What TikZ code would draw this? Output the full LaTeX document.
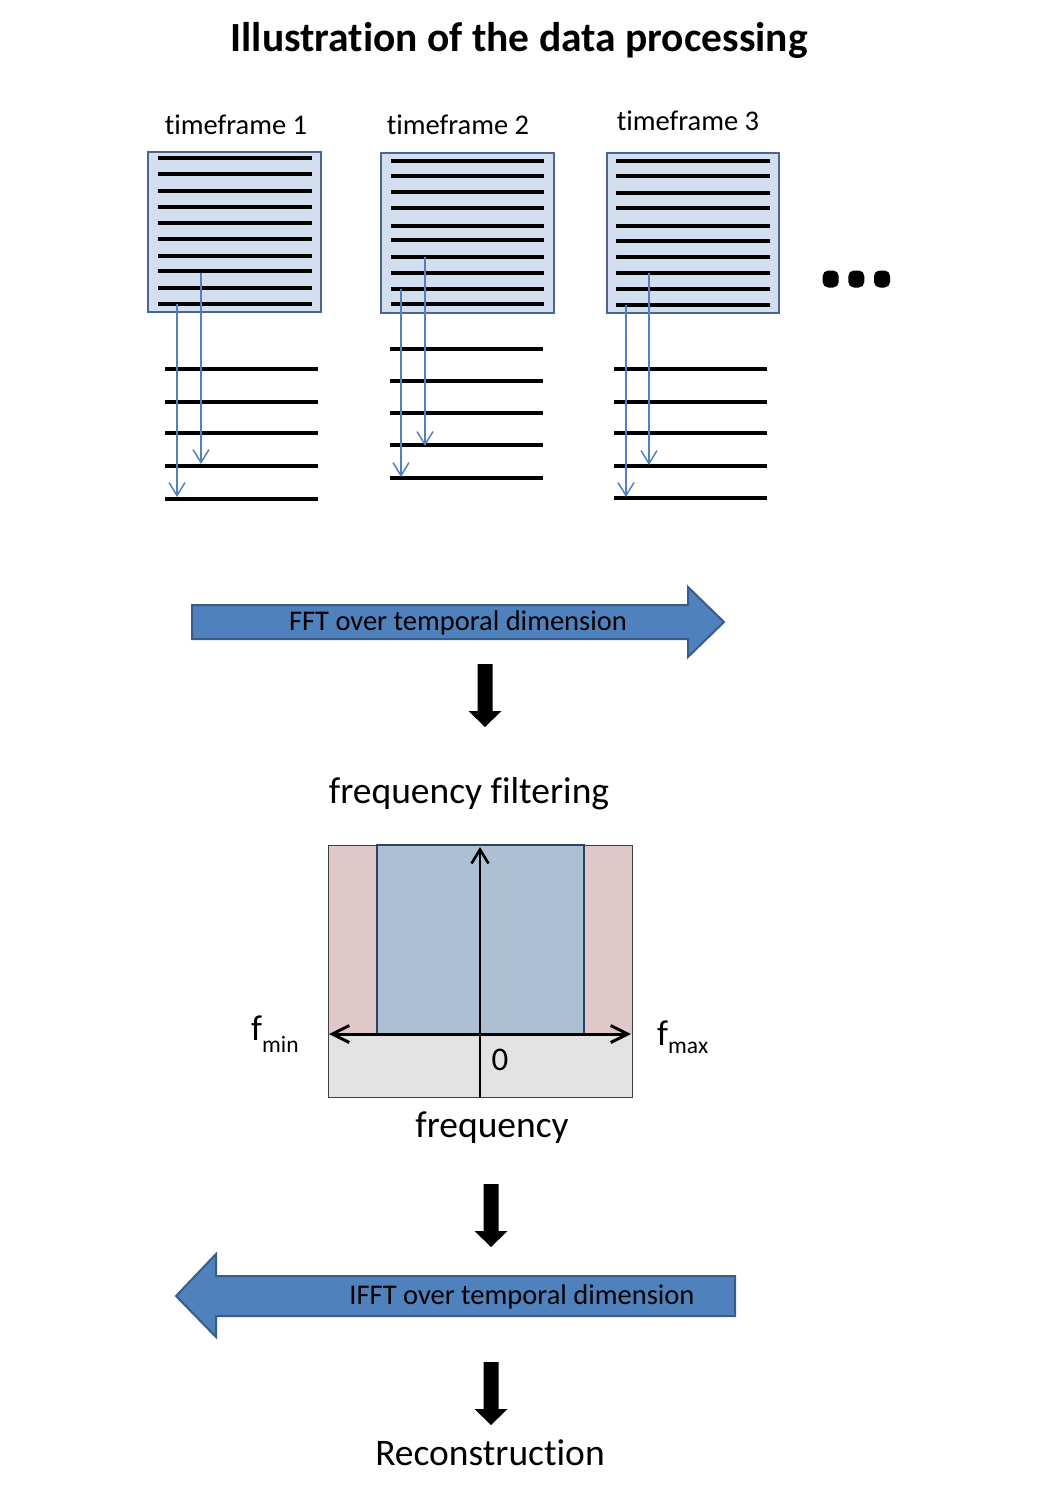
\documentclass[tikz,border=0pt]{standalone}
\usepackage{fontspec}
\setmainfont{Carlito}[Ligatures={NoCommon,NoContextual,NoDiscretionary}]
\usetikzlibrary{arrows.meta}
\definecolor{boxfill}{RGB}{211,223,238}
\definecolor{boxline}{RGB}{74,102,140}
\definecolor{accent}{RGB}{79,129,189}
\definecolor{accentline}{RGB}{56,93,138}
\definecolor{passfill}{RGB}{173,191,211}
\definecolor{passline}{RGB}{40,66,100}
\definecolor{stopfill}{RGB}{224,199,201}
\definecolor{grayfill}{RGB}{227,227,227}
\tikzset{
  lbl/.style={inner sep=0pt, anchor=base},
  framebox/.style={fill=boxfill, draw=boxline, line width=1.8pt},
  dataline/.style={line width=3.5pt, draw=black},
  thinarrow/.style={draw=accent, line width=1.5pt, -{Straight Barb[length=13pt,width=16pt]}},
  bigarrow/.style={fill=accent, draw=accentline, line width=2pt},
  downarr/.pic={\fill[black] (-7.5,0) -- (7.5,0) -- (7.5,47) -- (16.5,47) -- (0,63) -- (-16.5,47) -- (-7.5,47) -- cycle;},
  dotmark/.style={fill=black, rounded corners=5.5pt}
}
\begin{document}
\begin{tikzpicture}[x=1pt,y=-1pt]
\useasboundingbox (0,0) rectangle (1039,1499);

% title
\node[lbl] (title) at (519,51) {\fontsize{41.5}{50}\selectfont\bfseries Illustration of the data processing};

% timeframe labels
\node[lbl] (tl1) at (236,134) {\fontsize{28.5}{34}\selectfont timeframe 1};
\node[lbl] (tl2) at (458,134) {\fontsize{28.5}{34}\selectfont timeframe 2};
\node[lbl] (tl3) at (688,130) {\fontsize{28.5}{34}\selectfont timeframe 3};

% timeframe boxes
\draw[framebox] (148,152) rectangle (321,312);
\draw[framebox] (381,153) rectangle (554,313);
\draw[framebox] (607,153) rectangle (779,313);

\foreach \y in {158,174,191,207,223,239,256,271,288,304}
  \draw[dataline] (158,\y) -- (312,\y);
\foreach \y in {161,176,192,208,226,240,257,273,289,304}
  \draw[dataline] (391,\y) -- (544,\y);
\foreach \y in {161,176,193,208,226,241,257,273,289,305}
  \draw[dataline] (616,\y) -- (770,\y);

\foreach \y in {369,402,433,466,499}
  \draw[dataline] (165,\y) -- (318,\y);
\foreach \y in {349,381,413,445,478}
  \draw[dataline] (390,\y) -- (543,\y);
\foreach \y in {369,402,433,466,498}
  \draw[dataline] (614,\y) -- (767,\y);

% thin blue arrows
\foreach \n/\x/\ya/\yb in {a/177/304/497, b/201/273/464, c/401/289/477, d/425/257/446, e/626/305/497, f/649/273/465}{
  \coordinate (s\n) at (\x,\ya);
  \coordinate (e\n) at (\x,\yb);
  \draw[thinarrow] (s\n) -- (e\n);
}

% ellipsis dots
\fill[dotmark] (822.7,270.5) rectangle (838.7,287.5);
\fill[dotmark] (848.3,270.5) rectangle (864.3,287.5);
\fill[dotmark] (874,270.5) rectangle (890,287.5);

% FFT arrow
\draw[bigarrow] (192,605) -- (688,605) -- (688,587) -- (724,622) -- (688,657) -- (688,639) -- (192,639) -- cycle;
\node[lbl] (fft) at (458,630) {\fontsize{28.5}{34}\selectfont FFT over temporal dimension};

\pic at (485,664) {downarr};

% frequency filtering
\node[lbl] (ff) at (469,803) {\fontsize{37.5}{44}\selectfont frequency filtering};

\fill[stopfill] (328,845) rectangle (632,1034);
\fill[grayfill] (328,1034) rectangle (632,1097);
\draw[fill=passfill, draw=passline, line width=2.8pt] (377,845) rectangle (584,1034);
\draw[line width=0.8pt, draw=black!75] (328,845) rectangle (632,1097);
\coordinate (hl) at (329,1034);
\coordinate (hr) at (631,1034);
\draw[line width=3pt, {Straight Barb[length=17pt,width=17pt]}-{Straight Barb[length=17pt,width=17pt]}] (hl) -- (hr);
\coordinate (vb) at (480,1097);
\coordinate (vt) at (480,847);
\draw[line width=2.6pt, -{Straight Barb[length=14pt,width=17pt]}] (vb) -- (vt);

\node[lbl] (zero) at (500,1070) {\fontsize{33}{40}\selectfont 0};
\node[lbl, anchor=base west] (fmin) at (251,1040) {\fontsize{36}{40}\selectfont f\raisebox{-12pt}{\fontsize{23.5}{28}\selectfont min}};
\node[lbl, anchor=base west] (fmax) at (657,1045) {\fontsize{36}{40}\selectfont f\raisebox{-8pt}{\fontsize{23.5}{28}\selectfont max}};

\node[lbl] (freq) at (492,1137) {\fontsize{37.5}{44}\selectfont frequency};

\pic at (491,1184) {downarr};

% IFFT arrow
\draw[bigarrow] (735,1276) -- (216,1276) -- (216,1254) -- (176,1296) -- (216,1337) -- (216,1316) -- (735,1316) -- cycle;
\node[lbl] (ifft) at (522,1304) {\fontsize{28.5}{34}\selectfont IFFT over temporal dimension};

\pic at (491,1362) {downarr};

\node[lbl] (rec) at (490,1465) {\fontsize{37.5}{44}\selectfont Reconstruction};
\end{tikzpicture}
\end{document}
